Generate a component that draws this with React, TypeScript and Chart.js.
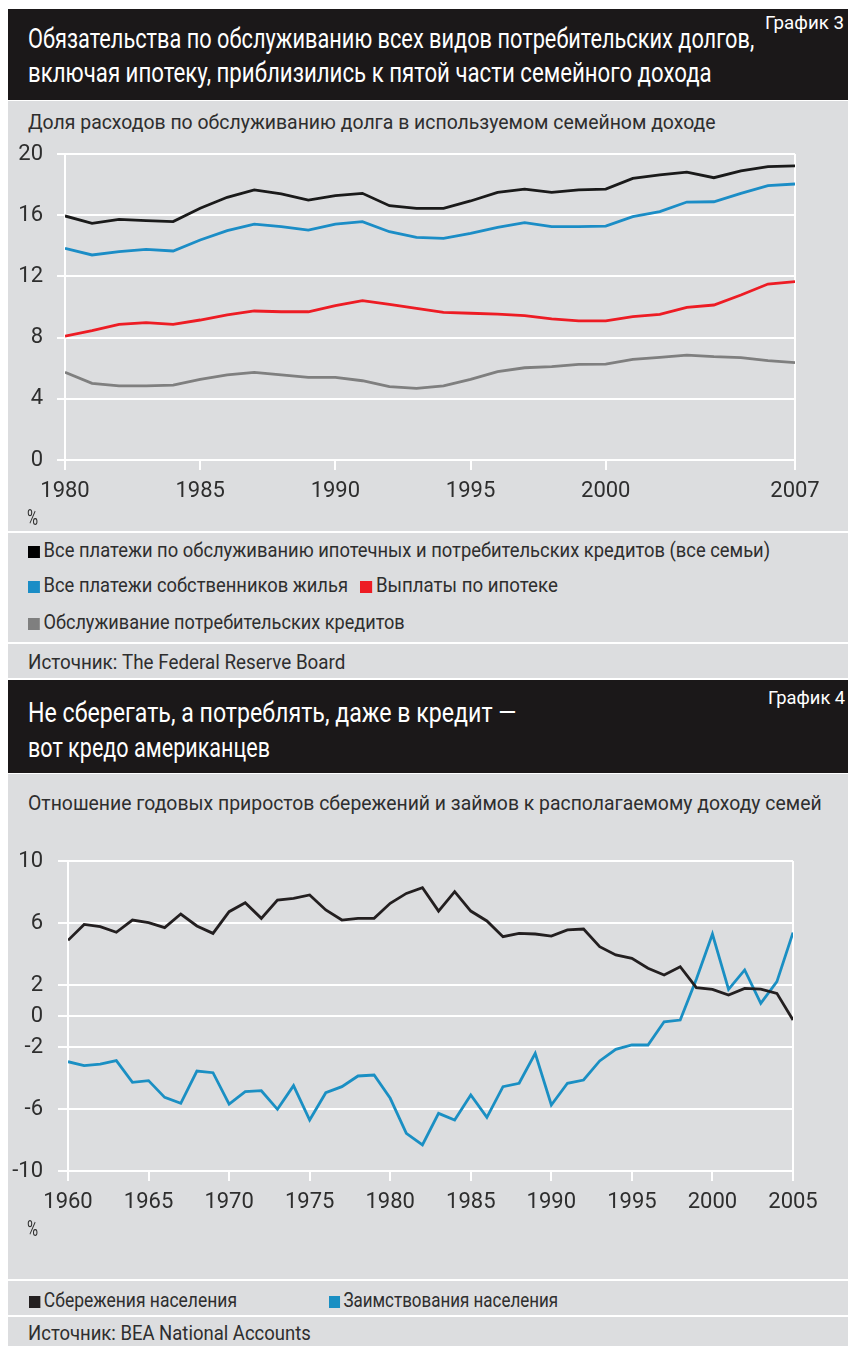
import React, { useEffect, useLayoutEffect, useRef } from "react";
import { Chart, registerables } from "chart.js";

Chart.register(...registerables);

// ---------- Chart 3 data ----------
const years1 = [1980, 1981, 1982, 1983, 1984, 1985, 1986, 1987, 1988, 1989, 1990, 1991, 1992, 1993, 1994, 1995, 1996, 1997, 1998, 1999, 2000, 2001, 2002, 2003, 2004, 2005, 2006, 2007];
const allHouseholds = [15.95, 15.47, 15.73, 15.65, 15.58, 16.45, 17.17, 17.65, 17.39, 16.99, 17.28, 17.43, 16.62, 16.45, 16.45, 16.93, 17.49, 17.71, 17.49, 17.65, 17.71, 18.41, 18.63, 18.82, 18.45, 18.89, 19.17, 19.22];
const homeowners = [13.83, 13.4, 13.62, 13.77, 13.66, 14.38, 14.99, 15.42, 15.25, 15.03, 15.42, 15.58, 14.92, 14.55, 14.49, 14.81, 15.2, 15.51, 15.25, 15.25, 15.29, 15.9, 16.23, 16.86, 16.88, 17.43, 17.93, 18.04];
const mortgage = [8.1, 8.45, 8.87, 8.98, 8.87, 9.15, 9.48, 9.74, 9.69, 9.69, 10.09, 10.41, 10.17, 9.91, 9.65, 9.59, 9.54, 9.43, 9.22, 9.09, 9.09, 9.37, 9.52, 9.98, 10.13, 10.78, 11.5, 11.66];
const consumer = [5.73, 5.01, 4.84, 4.84, 4.9, 5.27, 5.56, 5.73, 5.56, 5.4, 5.4, 5.18, 4.79, 4.68, 4.84, 5.27, 5.77, 6.03, 6.1, 6.25, 6.27, 6.58, 6.71, 6.86, 6.75, 6.69, 6.49, 6.36];
const xTicks1 = [1980, 1985, 1990, 1995, 2000, 2007];
const yTicks1 = [0, 4, 8, 12, 16, 20];

// ---------- Chart 4 data ----------
const years2 = [1960, 1961, 1962, 1963, 1964, 1965, 1966, 1967, 1968, 1969, 1970, 1971, 1972, 1973, 1974, 1975, 1976, 1977, 1978, 1979, 1980, 1981, 1982, 1983, 1984, 1985, 1986, 1987, 1988, 1989, 1990, 1991, 1992, 1993, 1994, 1995, 1996, 1997, 1998, 1999, 2000, 2001, 2002, 2003, 2004, 2005];
const savings = [4.88, 5.91, 5.76, 5.4, 6.19, 6.02, 5.7, 6.58, 5.81, 5.33, 6.73, 7.31, 6.3, 7.48, 7.59, 7.81, 6.84, 6.19, 6.3, 6.3, 7.27, 7.91, 8.28, 6.77, 8.02, 6.77, 6.13, 5.12, 5.33, 5.29, 5.16, 5.55, 5.61, 4.47, 3.94, 3.72, 3.08, 2.65, 3.18, 1.83, 1.72, 1.35, 1.78, 1.74, 1.46, -0.26];
const borrowing = [-2.95, -3.2, -3.1, -2.88, -4.28, -4.17, -5.25, -5.63, -3.55, -3.66, -5.68, -4.88, -4.82, -6.02, -4.49, -6.71, -4.95, -4.56, -3.87, -3.81, -5.31, -7.57, -8.32, -6.28, -6.71, -5.1, -6.54, -4.56, -4.34, -2.41, -5.74, -4.34, -4.13, -2.9, -2.15, -1.87, -1.87, -0.37, -0.26, 2.37, 5.29, 1.72, 2.97, 0.82, 2.22, 5.38];
const xTicks2 = [1960, 1965, 1970, 1975, 1980, 1985, 1990, 1995, 2000, 2005];
const yTicks2 = [-10, -6, -2, 0, 2, 6, 10];

const FONT = "Roboto, 'Liberation Sans', sans-serif";
const PANEL = "#dcdddf";
const HEADER = "#1b1819";
const TEXT = "#2e2e2e";

type Series = { label: string; values: number[]; color: string };

function buildConfig(
  years: number[],
  series: Series[],
  xTicks: number[],
  yTicks: number[],
  pad: { top: number; right: number },
  axisW: number,
  axisH: number,
  yTickLen: number,
  yPad: number
): any {
  const xMin = xTicks[0];
  const xMax = xTicks[xTicks.length - 1];
  return {
    type: "line",
    data: {
      datasets: series.map((s) => ({
        label: s.label,
        data: years.map((x, i) => ({ x, y: s.values[i] })),
        borderColor: s.color,
        borderWidth: 2.8,
        pointRadius: 0,
        tension: 0,
        fill: false,
      })),
    },
    options: {
      responsive: false,
      animation: false,
      devicePixelRatio: 1,
      layout: { padding: { top: pad.top, right: pad.right, left: 0, bottom: 0 }, autoPadding: false },
      plugins: { legend: { display: false }, tooltip: { enabled: false } },
      scales: {
        x: {
          type: "linear",
          min: xMin,
          max: xMax,
          afterBuildTicks: (s: any) => {
            s.ticks = xTicks.map((value) => ({ value }));
          },
          afterFit: (s: any) => {
            s.height = axisH;
          },
          grid: {
            drawOnChartArea: true,
            color: (c: any) => (c.tick && c.tick.value === xMax ? "#ffffff" : "rgba(0,0,0,0)"),
            tickColor: "#ffffff",
            lineWidth: 2,
            tickLength: 10,
          },
          border: { display: false },
          ticks: {
            autoSkip: false,
            maxRotation: 0,
            padding: 8,
            color: TEXT,
            font: { family: FONT, size: 22 },
            callback: (v: any) => String(v),
          },
        },
        y: {
          min: yTicks[0],
          max: yTicks[yTicks.length - 1],
          afterBuildTicks: (s: any) => {
            s.ticks = yTicks.map((value) => ({ value }));
          },
          afterFit: (s: any) => {
            s.width = axisW;
          },
          grid: { color: "#ffffff", lineWidth: 2, tickLength: yTickLen, tickColor: "#ffffff" },
          border: { display: true, color: "#ffffff", width: 2 },
          ticks: {
            padding: yPad,
            color: TEXT,
            font: { family: FONT, size: 22 },
            callback: (v: any) => String(v),
          },
        },
      },
    },
  };
}

function LineCanvas({ config, width, height }: { config: any; width: number; height: number }) {
  const ref = useRef<HTMLCanvasElement | null>(null);
  useEffect(() => {
    if (!ref.current) return;
    const chart = new Chart(ref.current, config);
    return () => chart.destroy();
  }, [config]);
  return <canvas ref={ref} width={width} height={height} style={{ width, height, display: "block" }} />;
}

// Text squeezed horizontally to the width it has in the (condensed-type) original
function FitText({
  top,
  left,
  width,
  size,
  color = TEXT,
  children,
}: {
  top: number;
  left: number;
  width: number;
  size: number;
  color?: string;
  children: React.ReactNode;
}) {
  const ref = useRef<HTMLSpanElement | null>(null);
  useLayoutEffect(() => {
    const fit = () => {
      const el = ref.current;
      if (!el) return;
      const w = el.offsetWidth;
      if (w > 0) el.style.transform = `scaleX(${width / w})`;
    };
    fit();
    if ((document as any).fonts && (document as any).fonts.ready) (document as any).fonts.ready.then(fit);
  });
  return (
    <span
      ref={ref}
      style={{
        position: "absolute",
        top,
        left,
        display: "inline-block",
        fontFamily: FONT,
        fontSize: size,
        color,
        whiteSpace: "nowrap",
        lineHeight: 1,
        transformOrigin: "0 0",
      }}
    >
      {children}
    </span>
  );
}

const box = (top: number, height: number, bg: string): React.CSSProperties => ({
  position: "absolute",
  top,
  left: 0,
  width: 840,
  height,
  background: bg,
});

function Square({ color }: { color: string }) {
  return <span style={{ display: "inline-block", width: 13, height: 12, background: color, marginRight: 4, verticalAlign: "-1px" }} />;
}

const config1 = buildConfig(
  years1,
  [
    { label: "Все платежи по обслуживанию ипотечных и потребительских кредитов (все семьи)", values: allHouseholds, color: "#1a1a1a" },
    { label: "Все платежи собственников жилья", values: homeowners, color: "#1b8dc6" },
    { label: "Выплаты по ипотеке", values: mortgage, color: "#ed1c24" },
    { label: "Обслуживание потребительских кредитов", values: consumer, color: "#7f7f7f" },
  ],
  xTicks1,
  yTicks1,
  { top: 44, right: 53 },
  57,
  50,
  8,
  14
);

const config2 = buildConfig(
  years2,
  [
    { label: "Сбережения населения", values: savings, color: "#231f20" },
    { label: "Заимствования населения", values: borrowing, color: "#1a8fc3" },
  ],
  xTicks2,
  yTicks2,
  { top: 41, right: 55 },
  60,
  49,
  10,
  15
);

export default function App() {
  const W = "#ffffff";
  useLayoutEffect(() => {
    // let the page use the full width / height (8px top-left margin kept)
    document.body.style.margin = "8px 0 0 8px";
  }, []);
  return (
    <div style={{ position: "relative", width: 840, height: 1338, background: "#ffffff" }}>
      {/* ===== График 3 ===== */}
      <div style={box(1, 91, HEADER)} />
      <FitText top={18} left={20} width={726} size={27} color={W}>
        Обязательства по обслуживанию всех видов потребительских долгов,
      </FitText>
      <FitText top={52} left={20} width={684} size={27} color={W}>
        включая ипотеку, приблизились к пятой части семейного дохода
      </FitText>
      <FitText top={5} left={757} width={79} size={19} color={W}>
        График 3
      </FitText>

      <div style={box(93, 430, PANEL)} />
      <FitText top={104} left={20} width={688} size={21}>
        Доля расходов по обслуживанию долга в используемом семейном доходе
      </FitText>
      <div style={{ position: "absolute", top: 102, left: 0 }}>
        <LineCanvas config={config1} width={840} height={400} />
      </div>
      <FitText top={499} left={19} width={11} size={22}>
        %
      </FitText>

      <div style={box(525, 109, PANEL)} />
      <FitText top={532} left={20} width={742} size={20}>
        <Square color="#000000" />
        Все платежи по обслуживанию ипотечных и потребительских кредитов (все семьи)
      </FitText>
      <FitText top={567} left={20} width={320} size={20}>
        <Square color="#1b8dc6" />
        Все платежи собственников жилья
      </FitText>
      <FitText top={567} left={352} width={198} size={20}>
        <Square color="#ed1c24" />
        Выплаты по ипотеке
      </FitText>
      <FitText top={604} left={20} width={377} size={20}>
        <Square color="#7f7f7f" />
        Обслуживание потребительских кредитов
      </FitText>

      <div style={box(636, 34, PANEL)} />
      <FitText top={644} left={20} width={317} size={20}>
        Источник: The Federal Reserve Board
      </FitText>

      {/* ===== График 4 ===== */}
      <div style={box(672, 93, HEADER)} />
      <FitText top={692} left={20} width={488} size={27} color={W}>
        Не сберегать, а потреблять, даже в кредит —
      </FitText>
      <FitText top={727} left={20} width={242} size={27} color={W}>
        вот кредо американцев
      </FitText>
      <FitText top={680} left={760} width={77} size={19} color={W}>
        График 4
      </FitText>

      <div style={box(766, 505, PANEL)} />
      <FitText top={785} left={20} width={794} size={21}>
        Отношение годовых приростов сбережений и займов к располагаемому доходу семей
      </FitText>
      <div style={{ position: "absolute", top: 812, left: 0 }}>
        <LineCanvas config={config2} width={840} height={400} />
      </div>
      <FitText top={1210} left={19} width={11} size={22}>
        %
      </FitText>

      <div style={box(1273, 34, PANEL)} />
      <FitText top={1282} left={21} width={208} size={20}>
        <Square color="#231f20" />
        Сбережения населения
      </FitText>
      <FitText top={1282} left={321} width={229} size={20}>
        <Square color="#1a8fc3" />
        Заимствования населения
      </FitText>

      <div style={box(1309, 29, PANEL)} />
      <FitText top={1315} left={20} width={283} size={20}>
        Источник: BEA National Accounts
      </FitText>
    </div>
  );
}
